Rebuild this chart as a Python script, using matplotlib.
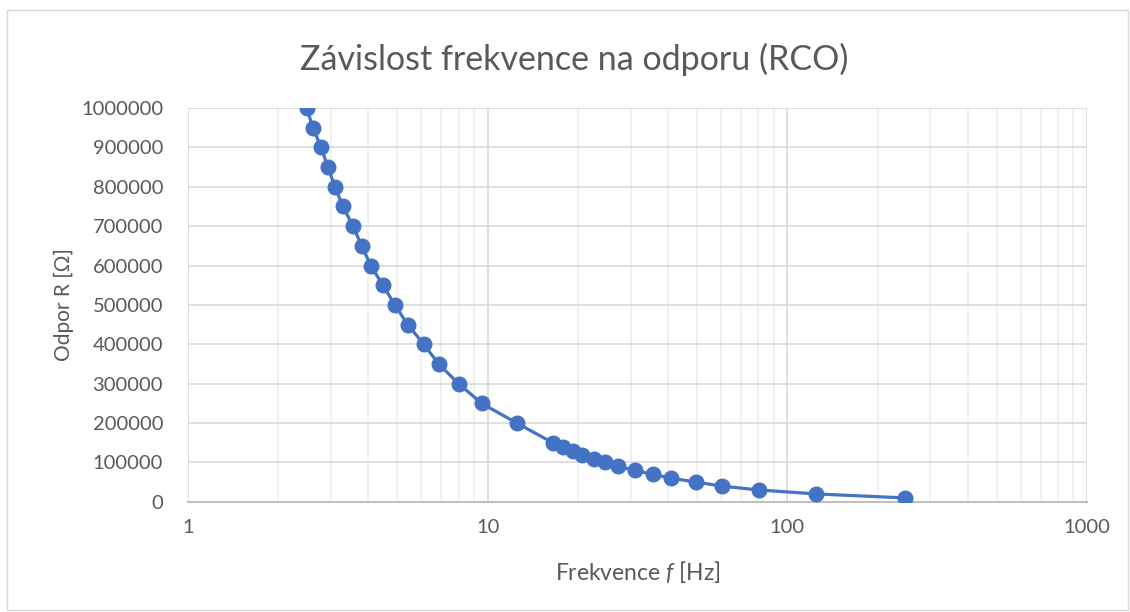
import numpy as np
import matplotlib.pyplot as plt
from matplotlib.patches import Rectangle
from matplotlib.ticker import FixedLocator, FixedFormatter, LogLocator, NullFormatter

plt.rcParams['font.family'] = ['Lato', 'DejaVu Sans']
plt.rcParams['mathtext.fontset'] = 'custom'
plt.rcParams['mathtext.rm'] = 'Lato'
plt.rcParams['mathtext.it'] = 'Lato:italic'

# Values
frekvence = [2.49, 2.61, 2.78, 2.93, 3.09, 3.29, 3.55, 3.80, 4.07, 4.47,
             4.90, 5.41, 6.12, 6.86, 8.0, 9.55, 12.5, 16.5, 17.8, 19.2,
             20.7, 22.6, 24.7, 27.3, 30.9, 35.5, 41.0, 49.7, 60.3, 80.7,
             125, 247]
odpor = [1000000, 950000, 900000, 850000, 800000, 750000, 700000, 650000,
         600000, 550000, 500000, 450000, 400000, 350000, 300000, 250000,
         200000, 150000, 140000, 130000, 120000, 110000, 100000, 90000,
         80000, 70000, 60000, 50000, 40000, 30000, 20000, 10000]
x_ticks = [1, 10, 100, 1000]
x_labels = ['1', '10', '100', '1000']
y_ticks = list(range(0, 1000001, 100000))

text_color = '#595959'
blue = '#4472C4'

fig = plt.figure(figsize=(11.3, 6.12), dpi=100)
fig.patches.append(Rectangle((0.006, 0.003), 0.992, 0.98, transform=fig.transFigure,
                             fill=False, edgecolor='#d9d9d9', linewidth=1))
ax = fig.add_axes([0.1664, 0.180, 0.7956, 0.6435])

ax.plot(frekvence, odpor, color=blue, linewidth=2.3, marker='o',
        markersize=10.5, zorder=3)

ax.set_xscale('log')
ax.set_xlim(1, 1000)
ax.set_ylim(0, 1000000)
ax.xaxis.set_major_locator(FixedLocator(x_ticks))
ax.xaxis.set_major_formatter(FixedFormatter(x_labels))
ax.xaxis.set_minor_locator(LogLocator(base=10, subs=np.arange(2, 10)))
ax.xaxis.set_minor_formatter(NullFormatter())
ax.set_yticks(y_ticks)
ax.set_yticklabels([str(v) for v in y_ticks])

ax.grid(True, which='major', color='#d9d9d9', linewidth=1.2)
ax.grid(True, which='minor', axis='x', color='#eeeeee', linewidth=1.2)
ax.set_axisbelow(True)

for s in ['top', 'right', 'left']:
    ax.spines[s].set_visible(False)
ax.spines['bottom'].set_color('#bfbfbf')
ax.spines['bottom'].set_linewidth(1.5)

ax.tick_params(which='both', length=0, labelsize=14.5, labelcolor=text_color)
ax.tick_params(axis='x', pad=12)
ax.tick_params(axis='y', pad=18)

fig.text(0.508, 1 - 70 / 612, 'Závislost frekvence na odporu (RCO)',
         fontsize=24.5, color=text_color, ha='center', va='baseline')
ax.set_xlabel(r'Frekvence $\mathit{f}$ [Hz]', fontsize=16.5, color=text_color,
              labelpad=17)
ax.set_ylabel('Odpor R [Ω]', fontsize=15, color=text_color, labelpad=5)

fig.savefig('out.png', dpi=100)
